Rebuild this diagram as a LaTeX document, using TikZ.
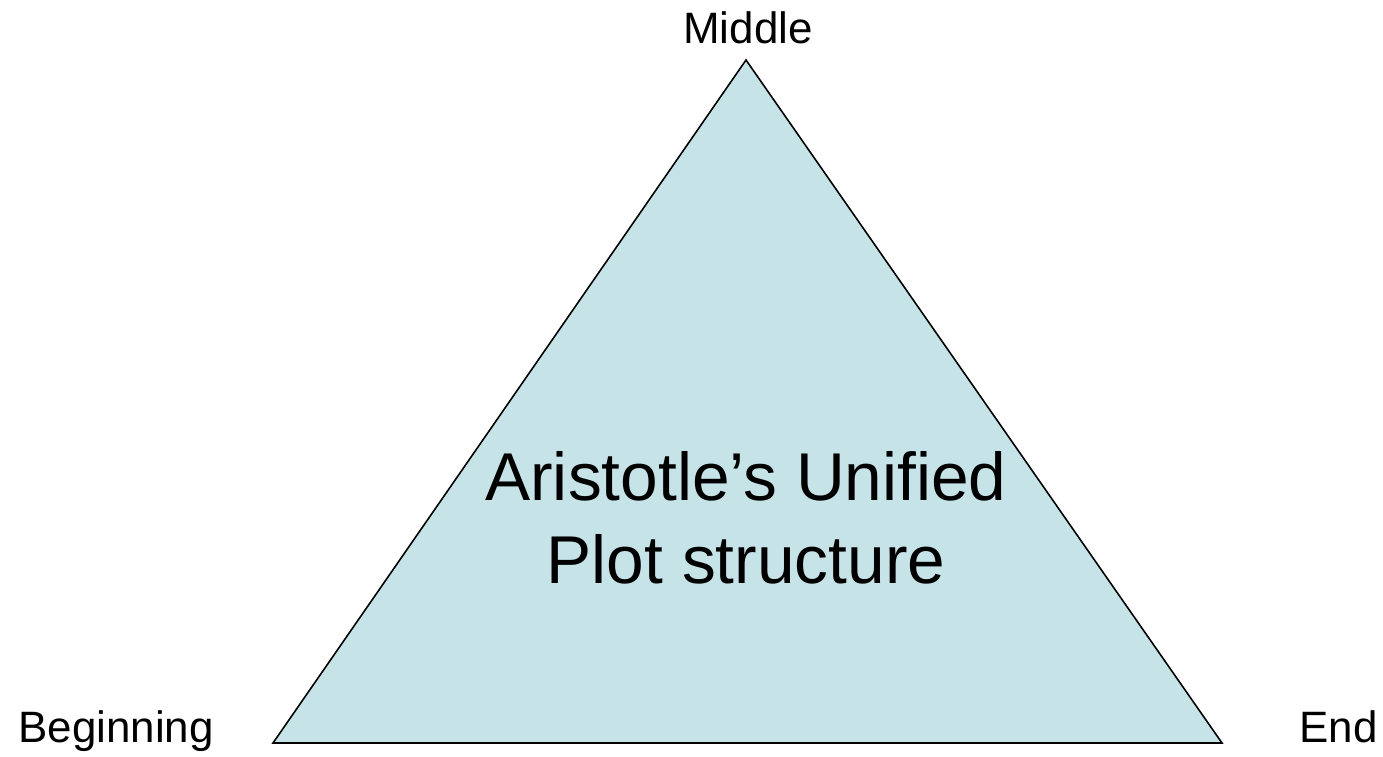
\documentclass[tikz,border=0pt]{standalone}
\usepackage{fontspec}
\setmainfont{Liberation Sans}
\usepackage{xcolor}
\definecolor{plotblue}{RGB}{198,228,232}

\begin{document}
\begin{tikzpicture}[x=0.02cm,y=-0.02cm,
	corner/.style={font=\fontsize{25}{30}\selectfont},
	title/.style={align=center,font=\fontsize{38.5}{47.2}\selectfont}]
					\useasboundingbox (0,0) rectangle (1383,757);
					\coordinate (top) at (746,60);
					\coordinate (left) at (273,743);
					\coordinate (right) at (1222,743);
					\filldraw[fill=plotblue, draw=black, line width=0.9pt] (top) -- (left) -- (right) -- cycle;
					\node[title, anchor=base] (plot) at (746,583) {Aristotle’s Unified\\Plot structure};
					\node[corner, anchor=base] (middle) at (748,44) {Middle};
					\node[corner, anchor=base west, inner sep=0pt] (beginning) at (18,742) {Beginning};
					\node[corner, anchor=base east, inner sep=0pt] (end) at (1378,742) {End};
				\end{tikzpicture}
\end{document}
